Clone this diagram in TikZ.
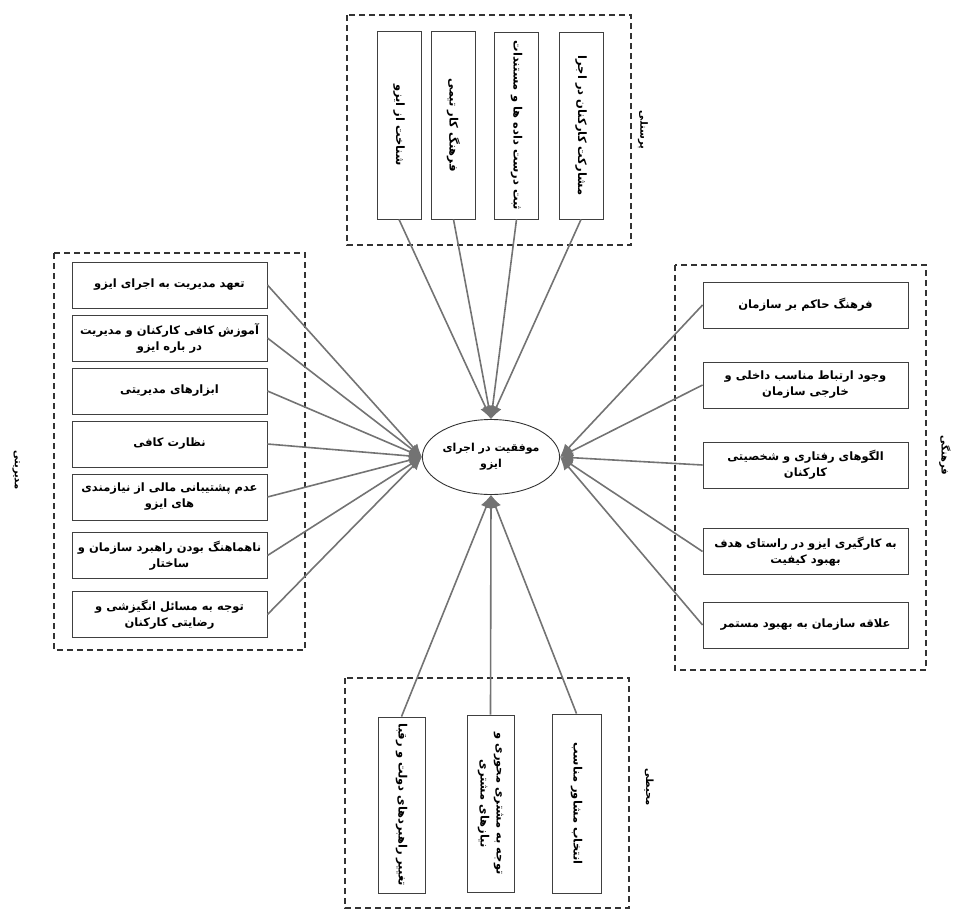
\documentclass[tikz,border=0pt]{standalone}
\usepackage{fontspec}
\newfontfamily\farsi[Script=Arabic]{DejaVu Sans}
\TeXXeTstate=1
\usetikzlibrary{arrows.meta,shapes.geometric}
\newcommand{\fa}[1]{\beginR #1\endR}
\tikzset{
  fatext/.style={font=\farsi\bfseries\fontsize{11.5}{16}\selectfont},
  hbox/.style={fatext, draw=black!75, line width=0.9pt, minimum width=195pt, minimum height=46pt, align=center, inner sep=1pt},
  rbox/.style={hbox, minimum width=205pt},
  vbox/.style={fatext, draw=black!75, line width=0.9pt, rotate=-90, minimum height=44pt, align=center, inner sep=1pt},
  group/.style={draw=black!80, line width=1.4pt, dash pattern=on 6pt off 4pt},
  glabel/.style={font=\farsi\bfseries\fontsize{10}{12}\selectfont, rotate=-90},
  conn/.style={draw=black!55, line width=1.6pt, -{Latex[length=13pt,width=11pt]}},
}
\begin{document}
\begin{tikzpicture}[x=1pt,y=-1pt]
\useasboundingbox (0,0) rectangle (959,911);
% group frames
\draw[group] (347,15) rectangle (631,245);
\draw[group] (54,253) rectangle (305,650);
\draw[group] (675,265) rectangle (926,670);
\draw[group] (345,678) rectangle (629,908);
% group labels
\node[glabel] (gtop) at (643,130) {\fa{پرسنلی}};
\node[glabel] (gleft) at (16,470) {\fa{مدیریتی}};
\node[glabel] (gright) at (945,455) {\fa{فرهنگی}};
\node[glabel] (gbot) at (649,787) {\fa{محیطی}};
% center
\node[fatext, font=\farsi\bfseries\fontsize{11}{16}\selectfont, draw=black!80, line width=0.9pt, ellipse, minimum width=137pt, minimum height=75pt, align=center, inner sep=0pt] (c) at (491,457) {\fa{موفقیت در اجرای}\\\fa{ایزو}};
% top boxes
\node[vbox, minimum width=188pt] (t1) at (399,125) {\fa{شناخت از ایزو}};
\node[vbox, minimum width=188pt] (t2) at (453.5,125) {\fa{فرهنگ کار تیمی}};
\node[vbox, minimum width=187pt] (t3) at (516.5,125.5) {\fa{ثبت درست داده ها و مستندات}};
\node[vbox, minimum width=187pt] (t4) at (581,125.5) {\fa{مشارکت کارکنان در اجرا}};
% left boxes
\node[hbox] (l1) at (169.5,285) {\fa{تعهد مدیریت به اجرای ایزو}};
\node[hbox] (l2) at (169.5,338) {\fa{آموزش کافی کارکنان و مدیریت}\\\fa{در باره ایزو}};
\node[hbox] (l3) at (169.5,391) {\fa{ابزارهای  مدیریتی}};
\node[hbox] (l4) at (169.5,444) {\fa{نظارت کافی}};
\node[hbox] (l5) at (169.5,497) {\fa{عدم پشتیبانی مالی از نیازمندی}\\\fa{های ایزو}};
\node[hbox] (l6) at (169.5,555.5) {\fa{ناهماهنگ بودن راهبرد سازمان و}\\\fa{ساختار}};
\node[hbox] (l7) at (169.5,614.5) {\fa{توجه به مسائل انگیزشی و}\\\fa{رضایتی کارکنان}};
% right boxes
\node[rbox] (r1) at (805.5,305) {\fa{فرهنگ حاکم بر سازمان}};
\node[rbox] (r2) at (805.5,385) {\fa{وجود ارتباط مناسب داخلی و}\\\fa{خارجی سازمان}};
\node[rbox] (r3) at (805.5,465) {\fa{الگوهای رفتاری و شخصیتی}\\\fa{کارکنان}};
\node[rbox] (r4) at (805.5,551.5) {\fa{به کارگیری ایزو در راستای هدف}\\\fa{بهبود کیفیت}};
\node[rbox] (r5) at (805.5,625) {\fa{علاقه سازمان به بهبود مستمر}};
% bottom boxes
\node[vbox, minimum width=176pt, minimum height=47pt] (b1) at (401.5,805) {\fa{تغییر راهبردهای دولت و رقبا}};
\node[vbox, minimum width=177pt, minimum height=47pt] (b2) at (490.5,803.5) {\fa{توجه به مشتری محوری و}\\\fa{نیازهای مشتری}};
\node[vbox, minimum width=179pt, minimum height=49pt] (b3) at (576.5,803.5) {\fa{انتخاب مشاور مناسب}};
% connectors
\foreach \n in {t1,t2,t3,t4} \draw[conn] (\n.east) -- (c.north);
\foreach \n in {l1,l2,l3,l4,l5,l6,l7} \draw[conn] (\n.east) -- (c.west);
\foreach \n in {r1,r2,r3,r4,r5} \draw[conn] (\n.west) -- (c.east);
\foreach \n in {b1,b2,b3} \draw[conn] (\n.west) -- (c.south);
\end{tikzpicture}
\end{document}
